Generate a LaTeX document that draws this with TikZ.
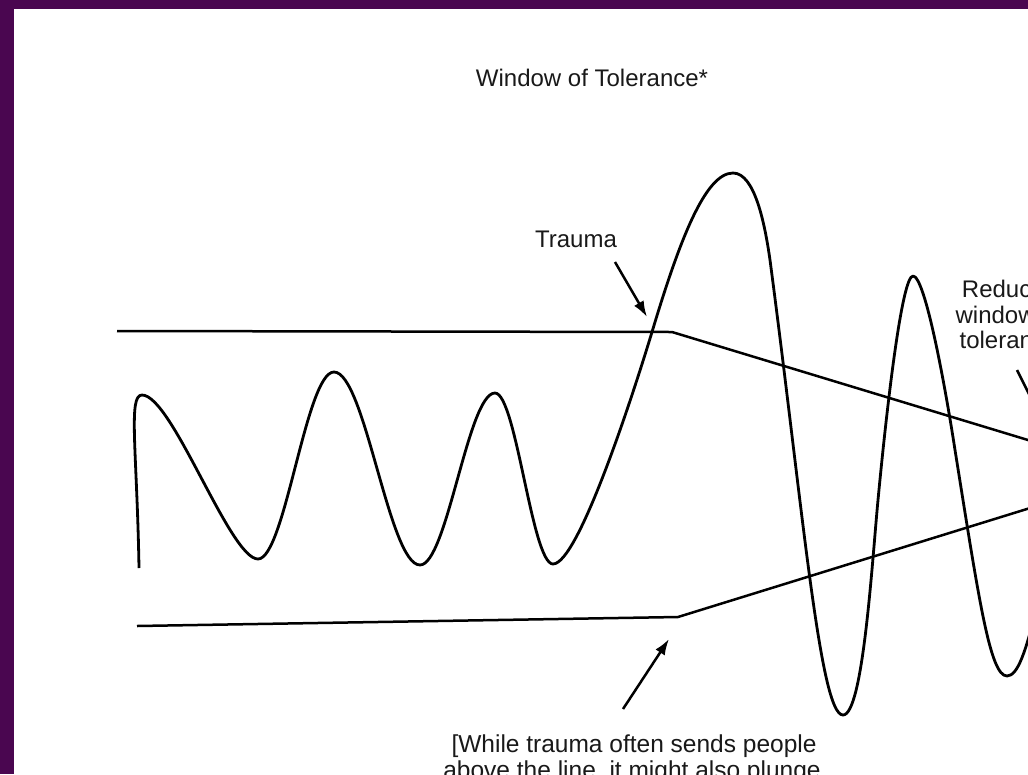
\documentclass[tikz,border=0pt]{standalone}
\usepackage{fontspec}
\setmainfont{Liberation Sans}
\usetikzlibrary{arrows.meta}
\definecolor{frame}{RGB}{74,6,80}
\begin{document}
\begin{tikzpicture}[x=1pt,y=-1pt,line join=round,
  lbl/.style={font=\fontsize{24}{26}\selectfont,inner sep=0pt,anchor=base,text=black!90},
  curve/.style={line width=2.8pt,black},
  limit/.style={line width=2.5pt,black},
  pointer/.style={line width=2.5pt,-{Latex[length=16pt,width=11pt]}}]
\useasboundingbox (0,0) rectangle (1028,774);
\clip (0,0) rectangle (1028,774);
\fill[white] (0,0) rectangle (1028,774);
\fill[frame] (0,0) rectangle (1028,9);
\fill[frame] (0,0) rectangle (14,774);

% window limits
\coordinate (u0) at (117,331);
\coordinate (u1) at (672,332);
\coordinate (l0) at (137,626);
\coordinate (l1) at (678,617);
\coordinate (meet) at (1140,474);
\draw[limit] (u0) -- (u1) -- (meet);
\draw[limit] (l0) -- (l1) -- (meet);

% arousal wave
\draw[curve] (139,568) .. controls (137,450) and (128,395) .. (142,395)
 .. controls (172,395) and (230,559) .. (258,559)
 .. controls (285,559) and (306,372) .. (334,372)
 .. controls (365,372) and (389,565) .. (420,565)
 .. controls (447,565) and (468,393) .. (495,393)
 .. controls (516,393) and (532,564) .. (553,564)
 .. controls (578,564) and (632,398) .. (652,332)
 .. controls (679,242) and (705,173) .. (733,173)
 .. controls (755,173) and (765,225) .. (770,260)
 .. controls (803,510) and (820,715) .. (843,715)
 .. controls (863,715) and (872,563) .. (878,500)
 .. controls (887,405) and (902,276) .. (913,276)
 .. controls (925,276) and (945,385) .. (955,450)
 .. controls (979,600) and (990,676) .. (1007,676)
 .. controls (1018,676) and (1026,650) .. (1036,610);

% labels
\node[lbl] (title) at (592,86) {Window of Tolerance*};
\node[lbl] (trauma) at (576,247) {Trauma};
\node[lbl] (red1) at (1010,297) {Reduced};
\node[lbl] (red2) at (1009,323) {window of};
\node[lbl] (red3) at (1009,348) {tolerance};
\node[lbl,font=\fontsize{24.5}{26}\selectfont] (note1) at (634,752) {[While trauma often sends people};
\node[lbl,font=\fontsize{24.5}{26}\selectfont] (note2) at (632,778) {above the line, it might also plunge};

% pointers
\coordinate (ta) at (615,262);
\coordinate (tb) at (647,317);
\draw[pointer] (ta) -- (tb);
\coordinate (na) at (623,709);
\coordinate (nb) at (669,639);
\draw[pointer] (na) -- (nb);
\coordinate (ra) at (1017,370);
\coordinate (rb) at (1042,420);
\draw[pointer] (ra) -- (rb);
\end{tikzpicture}
\end{document}
